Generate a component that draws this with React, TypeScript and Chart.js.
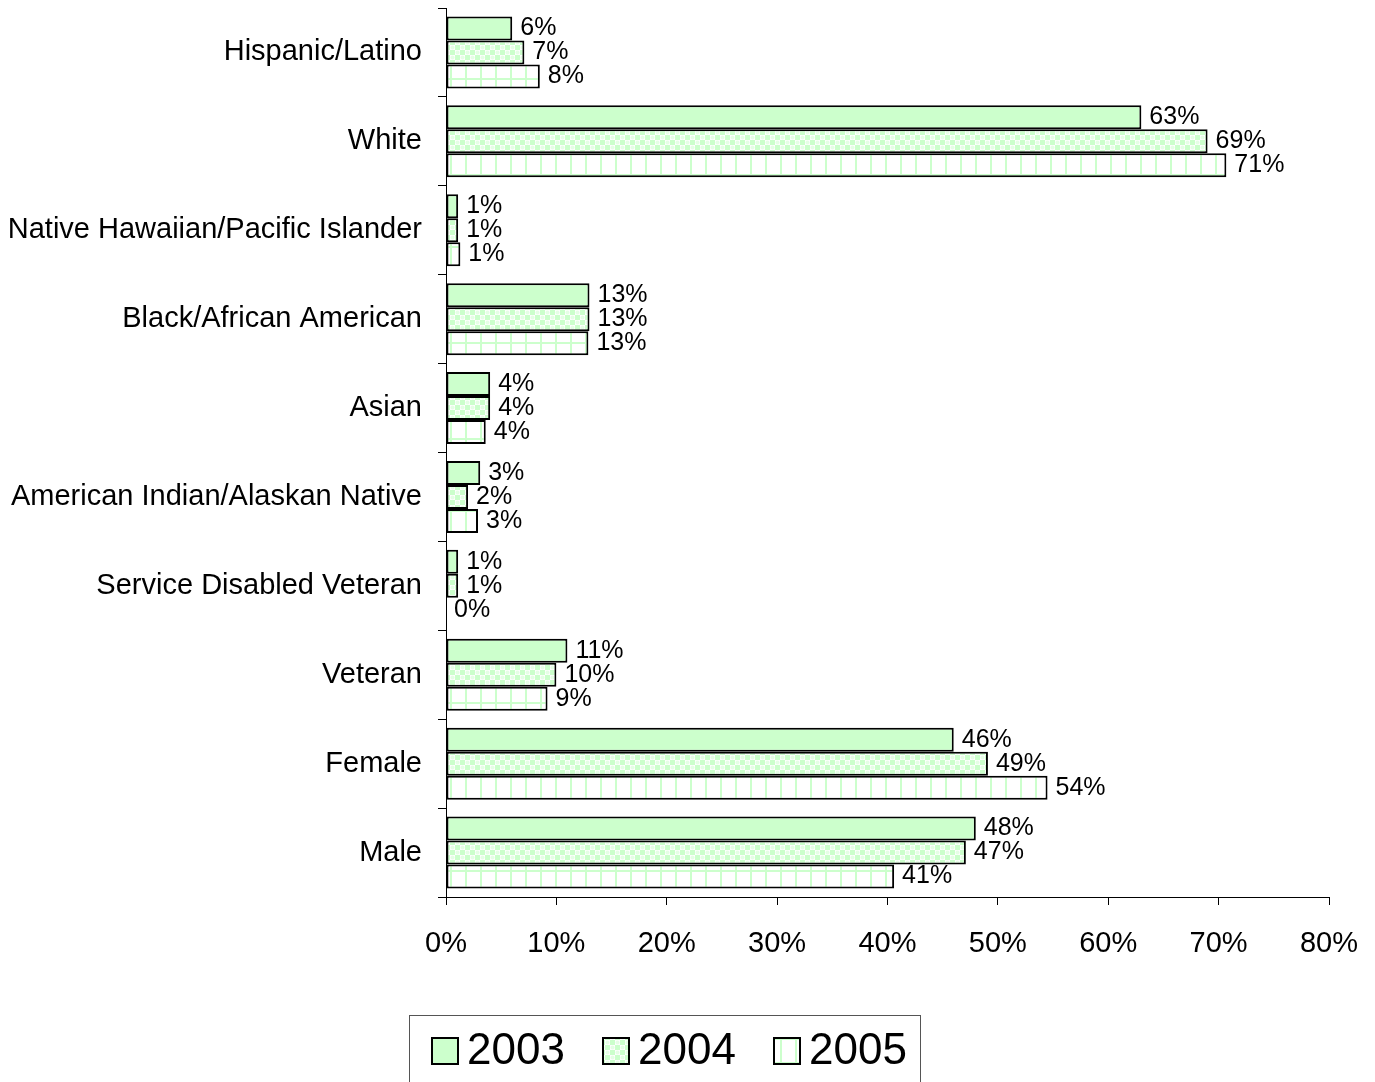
import React, { useEffect, useRef } from "react";
import { Chart, registerables } from "chart.js";

Chart.register(...registerables);

const categories = [
  "Hispanic/Latino",
  "White",
  "Native Hawaiian/Pacific Islander",
  "Black/African American",
  "Asian",
  "American Indian/Alaskan Native",
  "Service Disabled Veteran",
  "Veteran",
  "Female",
  "Male",
];
const seriesNames = ["2003", "2004", "2005"];
const values2003 = [6.0, 63.0, 1.1, 13.0, 4.0, 3.1, 1.1, 11.0, 46.0, 48.0];
const values2004 = [7.1, 69.0, 1.1, 13.0, 4.0, 2.0, 1.1, 10.0, 49.1, 47.1];
const values2005 = [8.5, 70.7, 1.3, 12.9, 3.6, 2.9, 0.0, 9.2, 54.5, 40.6];
const labels2003 = ["6%", "63%", "1%", "13%", "4%", "3%", "1%", "11%", "46%", "48%"];
const labels2004 = ["7%", "69%", "1%", "13%", "4%", "2%", "1%", "10%", "49%", "47%"];
const labels2005 = ["8%", "71%", "1%", "13%", "4%", "3%", "0%", "9%", "54%", "41%"];
const xTicks = [0, 10, 20, 30, 40, 50, 60, 70, 80];

const FONT = '"Liberation Sans", Arial, sans-serif';
const GREEN = "#CCFFCC";

function makePatterns() {
  const solid = GREEN;
  const t1 = document.createElement("canvas");
  t1.width = 10;
  t1.height = 10;
  const c1 = t1.getContext("2d")!;
  c1.fillStyle = "#ffffff";
  c1.fillRect(0, 0, 10, 10);
  c1.fillStyle = GREEN;
  c1.fillRect(0, 0, 5, 5);
  c1.fillRect(5, 5, 5, 5);
  c1.fillStyle = "#E6FFE6";
  c1.beginPath();
  c1.arc(7.5, 2.5, 2, 0, Math.PI * 2);
  c1.fill();
  c1.beginPath();
  c1.arc(2.5, 7.5, 2, 0, Math.PI * 2);
  c1.fill();
  const p1 = c1.createPattern(t1, "repeat")!;
  const t2 = document.createElement("canvas");
  t2.width = 15;
  t2.height = 24;
  const c2 = t2.getContext("2d")!;
  c2.fillStyle = "#ffffff";
  c2.fillRect(0, 0, 15, 24);
  c2.fillStyle = GREEN;
  c2.fillRect(0, 0, 2, 24);
  c2.fillRect(0, 6, 15, 2);
  const p2 = c2.createPattern(t2, "repeat")!;
  return [solid, p1, p2];
}

export default function App() {
  const ref = useRef<HTMLCanvasElement>(null);
  useEffect(() => {
    document.body.style.margin = "0";
    const fills = makePatterns();
    const allLabels = [labels2003, labels2004, labels2005];

    const dataLabelPlugin = {
      id: "dataLabels",
      afterDatasetsDraw(chart: any) {
        const ctx = chart.ctx;
        ctx.save();
        ctx.font = `25px ${FONT}`;
        ctx.fillStyle = "#000";
        ctx.textAlign = "left";
        ctx.textBaseline = "middle";
        chart.data.datasets.forEach((ds: any, di: number) => {
          const meta = chart.getDatasetMeta(di);
          meta.data.forEach((el: any, i: number) => {
            ctx.fillText(allLabels[di][i], el.x + 8, el.y);
          });
        });
        ctx.restore();
      },
    };

    const legendPlugin = {
      id: "boxLegend",
      afterDraw(chart: any) {
        const ctx = chart.ctx;
        ctx.save();
        ctx.strokeStyle = "#555";
        ctx.lineWidth = 1;
        ctx.strokeRect(409.5, 1015.5, 511, 90);
        const boxX = [432, 603, 774];
        ctx.font = `44px ${FONT}`;
        ctx.textBaseline = "middle";
        ctx.textAlign = "left";
        seriesNames.forEach((name, i) => {
          ctx.fillStyle = fills[i] as any;
          ctx.fillRect(boxX[i], 1038, 26, 26);
          ctx.strokeStyle = "#000";
          ctx.lineWidth = 2;
          ctx.strokeRect(boxX[i], 1038, 26, 26);
          ctx.fillStyle = "#000";
          ctx.fillText(name, boxX[i] + 35, 1052);
        });
        ctx.restore();
      },
    };

    const seriesValues = [values2003, values2004, values2005];
    const chart = new Chart(ref.current!, {
      type: "bar",
      data: {
        labels: categories,
        datasets: seriesNames.map((n, i) => ({
          label: n,
          data: seriesValues[i],
          backgroundColor: fills[i] as any,
          borderColor: "#000",
          borderWidth: 2,
          borderSkipped: false,
          categoryPercentage: 0.81,
          barPercentage: 1,
        })),
      },
      options: {
        indexAxis: "y",
        animation: false,
        responsive: false,
        maintainAspectRatio: false,
        layout: { padding: { left: 8, right: 46, top: 8, bottom: 125 } },
        plugins: {
          legend: { display: false },
          tooltip: { enabled: false },
        },
        scales: {
          x: {
            min: 0,
            max: 80,
            afterBuildTicks(scale: any) {
              scale.ticks = xTicks.map((v) => ({ value: v }));
            },
            afterFit(scale: any) {
              scale.height = 60;
              scale.paddingLeft = 0;
              scale.paddingRight = 0;
            },
            ticks: {
              callback: (v: any) => v + "%",
              color: "#000",
              font: { family: FONT, size: 29 },
              padding: 22,
              maxRotation: 0,
            },
            grid: {
              drawOnChartArea: false,
              tickLength: 8,
              color: "#000",
              lineWidth: 1,
            },
            border: { color: "#000", width: 1 },
          },
          y: {
            afterFit(scale: any) {
              scale.width = 438;
              scale.paddingTop = 0;
              scale.paddingBottom = 0;
            },
            ticks: {
              color: "#000",
              font: { family: FONT, size: 29 },
              padding: 16,
              autoSkip: false,
            },
            grid: {
              offset: true,
              drawOnChartArea: false,
              tickLength: 8,
              color: "#000",
              lineWidth: 1,
            },
            border: { color: "#000", width: 1 },
          },
        },
      },
      plugins: [dataLabelPlugin, legendPlugin],
    });
    return () => chart.destroy();
  }, []);
  return <canvas ref={ref} width={1375} height={1082} style={{ display: "block" }} />;
}
